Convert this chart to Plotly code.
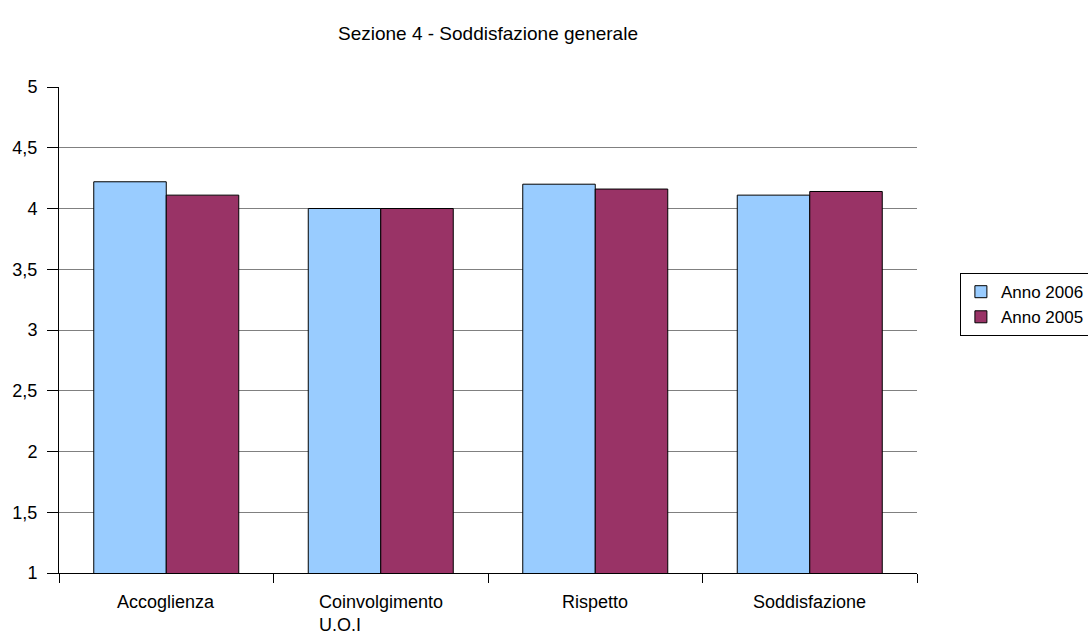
import plotly.graph_objects as go

categories = ["Accoglienza", "Coinvolgimento U.O.I", "Rispetto", "Soddisfazione"]
labels = ["Accoglienza", "Coinvolgimento<br>U.O.I", "Rispetto", "Soddisfazione"]
anno_2006 = [4.22, 4.0, 4.20, 4.11]
anno_2005 = [4.11, 4.0, 4.16, 4.14]

FONT = "Liberation Sans, Arial, sans-serif"

fig = go.Figure()
fig.add_trace(go.Bar(x=categories, y=anno_2006, name="Anno 2006",
                     marker=dict(color="#99CCFF", line=dict(color="black", width=1))))
fig.add_trace(go.Bar(x=categories, y=anno_2005, name="Anno 2005",
                     marker=dict(color="#993366", line=dict(color="black", width=1))))

for cat, lab in zip(categories, labels):
    fig.add_annotation(x=cat, xref="x", y=0, yref="paper", yshift=-17, text=lab,
                       showarrow=False, align="left", xanchor="center", yanchor="top",
                       font=dict(family=FONT, size=18, color="black"))

fig.update_layout(
    width=1088, height=636,
    margin=dict(l=59, r=171, t=87, b=63, autoexpand=False),
    paper_bgcolor="white", plot_bgcolor="white",
    separators=", ",
    bargap=0.324, bargroupgap=0,
    font=dict(family=FONT, size=18, color="black"),
    title=dict(text="Sezione 4 - Soddisfazione generale", x=0.4485, xanchor="center",
               y=0.948, yanchor="middle", font=dict(family=FONT, size=19, color="black")),
    legend=dict(x=1.05, xanchor="left", y=0.617, yanchor="top",
                bordercolor="black", borderwidth=1, font=dict(family=FONT, size=17),
                tracegroupgap=0, itemwidth=30),
    showlegend=True,
)
fig.update_xaxes(type="category", showticklabels=False, tickson="boundaries",
                 ticks="outside", ticklen=9, tickcolor="black",
                 showline=True, linecolor="black", linewidth=1, showgrid=False)
fig.update_yaxes(range=[1, 5], dtick=0.5, tick0=1, ticks="outside", ticklen=11,
                 tickcolor="black", showline=True, linecolor="black", linewidth=1,
                 showgrid=True, gridcolor="#808080", gridwidth=1, zeroline=False,
                 ticklabelstandoff=6, tickfont=dict(family=FONT, size=18))

fig.write_html("out.html")
